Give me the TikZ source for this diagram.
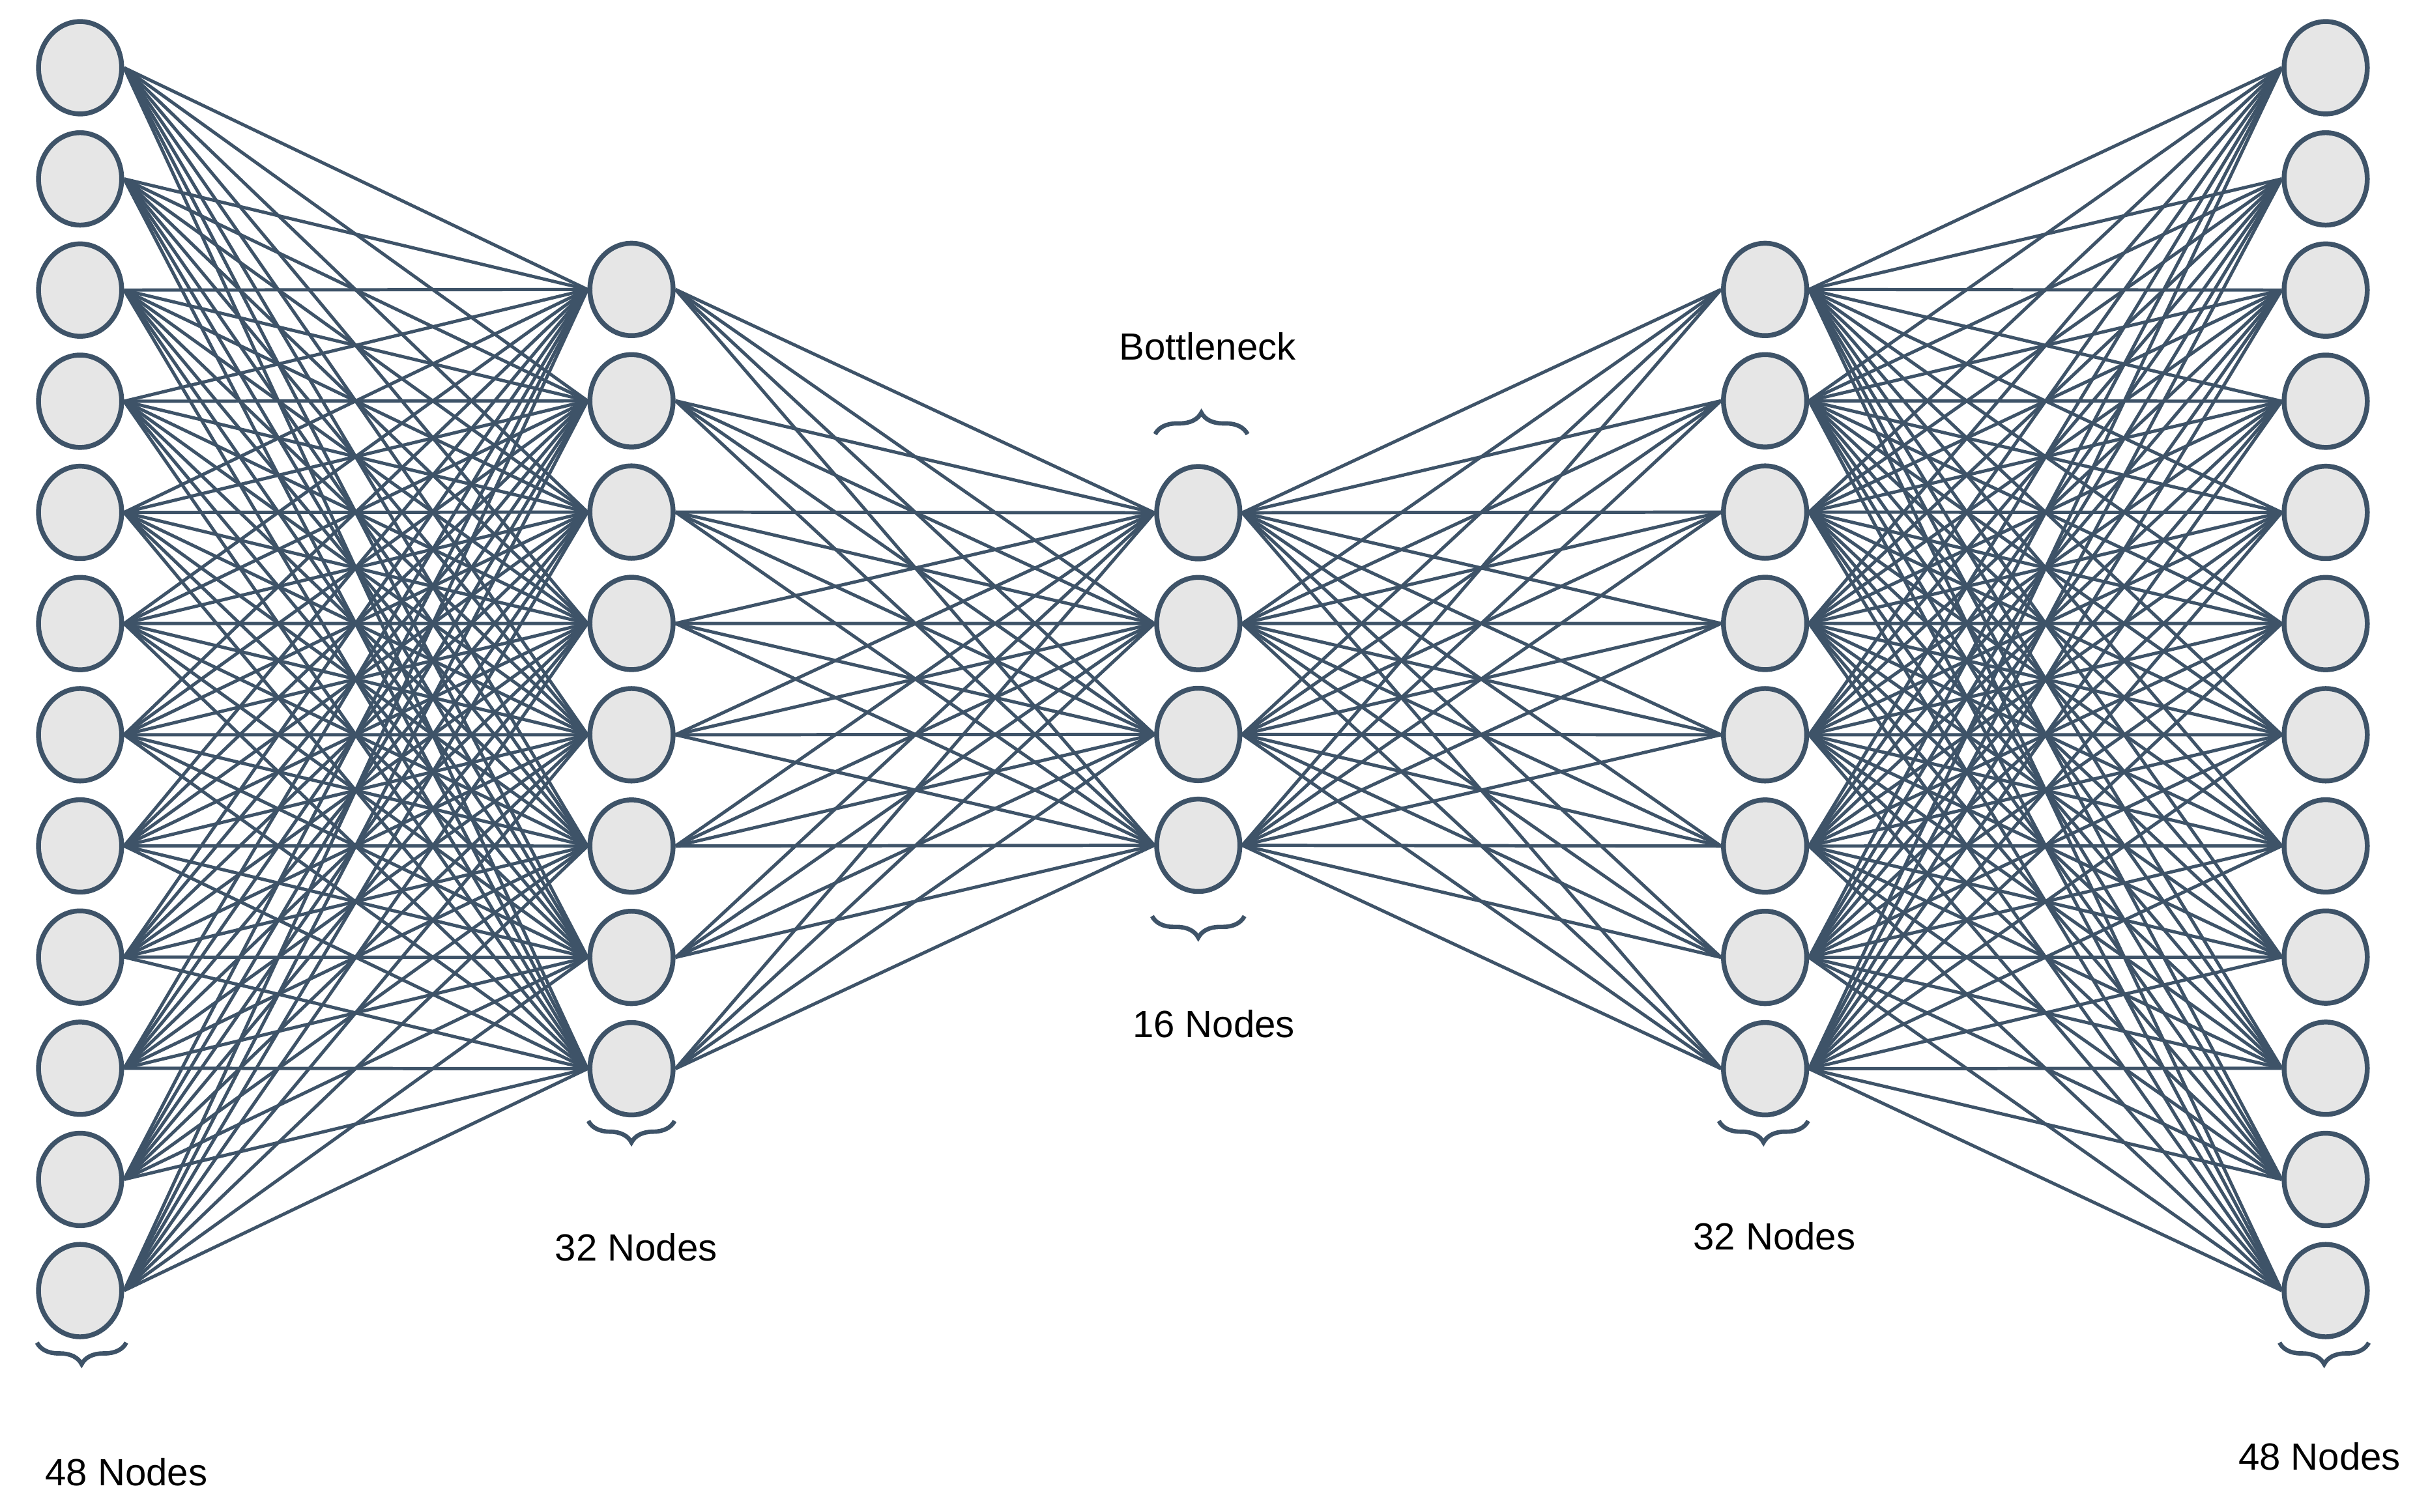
\documentclass[tikz,border=0pt]{standalone}
\usepackage{fontspec}
\setmainfont{Liberation Sans}
\usetikzlibrary{positioning,decorations.pathreplacing}
\definecolor{edgec}{HTML}{3E5368}
\definecolor{nodefill}{HTML}{E6E6E6}
\tikzset{
  neuron/.style={ellipse, draw=edgec, fill=nodefill, line width=0.9pt, minimum width=0.54cm, minimum height=0.6cm, inner sep=0pt},
  link/.style={edgec, line width=0.6pt},
  grp/.style={edgec, line width=0.8pt, decorate, decoration={brace, amplitude=0.14cm}},
  lbl/.style={font=\fontsize{7}{8}\selectfont}
}
\usetikzlibrary{shapes.geometric}
\begin{document}
\begin{tikzpicture}[x=1cm,y=1cm]
\useasboundingbox (0,0) rectangle (15.68,-9.82);
% layers
\foreach \i in {1,...,12} \node[neuron] (A\i) at (0.52,{-0.44-0.722*(\i-1)}) {};
\foreach \i in {1,...,8} \node[neuron] (B\i) at (4.10,{-1.88-0.723*(\i-1)}) {};
\foreach \i in {1,...,4} \node[neuron] (C\i) at (7.78,{-3.33-0.72*(\i-1)}) {};
\foreach \i in {1,...,8} \node[neuron] (D\i) at (11.46,{-1.88-0.723*(\i-1)}) {};
\foreach \i in {1,...,12} \node[neuron] (E\i) at (15.10,{-0.44-0.722*(\i-1)}) {};
% connections
\begin{scope}[on background layer/.style={}]
\foreach \i in {1,...,12} \foreach \j in {1,...,8} {
  \draw[link] (A\i.east) -- (B\j.west);
  \draw[link] (D\j.east) -- (E\i.west);
}
\foreach \i in {1,...,8} \foreach \j in {1,...,4} {
  \draw[link] (B\i.east) -- (C\j.west);
  \draw[link] (C\j.east) -- (D\i.west);
}
\end{scope}
% braces
\draw[grp] (0.82,-8.72) -- (0.24,-8.72);
\draw[grp] (4.38,-7.28) -- (3.82,-7.28);
\draw[grp] (7.50,-2.82) -- (8.10,-2.82);
\draw[grp] (8.08,-5.95) -- (7.48,-5.95);
\draw[grp] (11.74,-7.28) -- (11.16,-7.28);
\draw[grp] (15.38,-8.72) -- (14.80,-8.72);
% labels
\node[lbl] (n48a) at (0.82,-9.56) {48 Nodes};
\node[lbl] (n32a) at (4.13,-8.10) {32 Nodes};
\node[lbl] (bn) at (7.84,-2.25) {Bottleneck};
\node[lbl] (n16) at (7.88,-6.65) {16 Nodes};
\node[lbl] (n32b) at (11.52,-8.03) {32 Nodes};
\node[lbl] (n48b) at (15.06,-9.46) {48 Nodes};
\end{tikzpicture}
\end{document}
